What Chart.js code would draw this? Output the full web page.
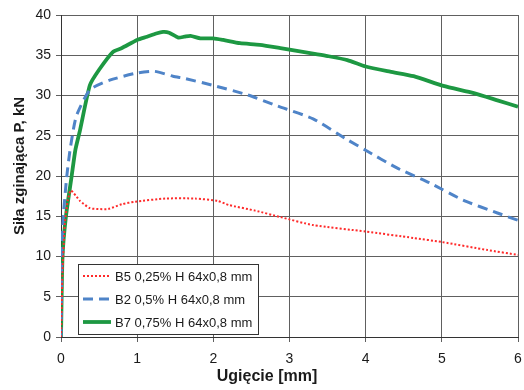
<!DOCTYPE html>
<html>
<head>
<meta charset="utf-8">
<script src="https://cdn.jsdelivr.net/npm/chart.js@4"></script>
<style>
    html, body { margin: 0; padding: 0; background: #fff; }
    #wrap { width: 524px; height: 390px; }
</style>
</head>
<body>
<div id="wrap"><canvas id="chart" width="524" height="390"></canvas></div>
<script>
// Series data
const b5X = [0, 0.02, 0.05, 0.09, 0.13, 0.25, 0.38, 0.49, 0.62, 0.8, 0.97, 1.37, 1.76, 2.06, 2.2, 2.55, 2.88, 3.31, 4.0, 4.63, 5.0, 5.6, 6.0];
const b5Y = [0, 8, 14, 17, 18.2, 16.9, 16.0, 15.9, 15.9, 16.5, 16.8, 17.2, 17.2, 16.9, 16.4, 15.7, 14.9, 13.9, 13.1, 12.3, 11.8, 10.8, 10.2];

const b2X = [0, 0.01, 0.03, 0.075, 0.12, 0.2, 0.38, 0.64, 1.0, 1.23, 1.47, 1.63, 1.98, 2.44, 2.84, 3.31, 3.76, 4.0, 4.41, 4.85, 5.28, 5.73, 6.0];
const b2Y = [0, 10, 14.9, 19.9, 23.3, 27.4, 30.7, 31.9, 32.8, 33.0, 32.4, 32.1, 31.3, 30.1, 28.7, 27.1, 24.5, 23.2, 21.0, 19.1, 17.0, 15.4, 14.5];

const b7X = [0, 0.02, 0.065, 0.14, 0.19, 0.25, 0.38, 0.5, 0.68, 0.8, 1.0, 1.13, 1.25, 1.34, 1.42, 1.54, 1.62, 1.7, 1.83, 2.0, 2.13, 2.35, 2.61, 2.88, 3.0, 3.31, 3.5, 3.76, 4.0, 4.32, 4.63, 5.02, 5.42, 5.73, 6.0];
const b7Y = [0, 10, 15, 20, 23.3, 25.7, 31.3, 33.2, 35.4, 35.9, 36.9, 37.3, 37.7, 37.9, 37.8, 37.2, 37.3, 37.4, 37.1, 37.1, 36.9, 36.5, 36.3, 35.9, 35.7, 35.2, 34.9, 34.4, 33.6, 32.96, 32.4, 31.2, 30.3, 29.4, 28.6];

const seriesLabels = ['B5 0,25% H 64x0,8 mm', 'B2 0,5% H 64x0,8 mm', 'B7 0,75% H 64x0,8 mm'];
const xTitle = 'Ugięcie [mm]';
const yTitle = 'Siła zginająca P, kN';

const toPoints = (xs, ys) => xs.map((x, i) => ({ x: x, y: ys[i] }));

const FONT = "'Liberation Sans', Arial, sans-serif";
const TEXT = '#1a1a1a';
Chart.defaults.font.family = FONT;
Chart.defaults.color = TEXT;

// Legend box inside the plot (bottom left) and the two axis titles,
// which sit a bit off-centre in the original
const extras = {
    id: 'extras',
    afterDatasetsDraw(chart) {
        const ctx = chart.ctx;
        const area = chart.chartArea;
        const left = area.left + 17, top = area.bottom - 73, w = 180, h = 70;
        ctx.save();
        ctx.fillStyle = '#fff';
        ctx.fillRect(left, top, w, h);
        ctx.strokeStyle = '#333';
        ctx.lineWidth = 1;
        ctx.strokeRect(left + 0.5, top + 0.5, w, h);
        ctx.font = '13px ' + FONT;
        ctx.textBaseline = 'middle';
        chart.data.datasets.forEach((ds, i) => {
            const y = top + 12 + i * 23;
            ctx.beginPath();
            ctx.strokeStyle = ds.borderColor;
            ctx.lineWidth = ds.borderWidth;
            ctx.setLineDash(ds.borderDash || []);
            ctx.moveTo(left + 5, y);
            ctx.lineTo(left + 33, y);
            ctx.stroke();
            ctx.setLineDash([]);
            ctx.fillStyle = TEXT;
            ctx.fillText(ds.label, left + 37, y + 1);
        });

        ctx.fillStyle = TEXT;
        ctx.textAlign = 'center';
        ctx.font = 'bold 16px ' + FONT;
        ctx.fillText(xTitle, area.left + 206, 377);
        ctx.translate(20, area.top + 151);
        ctx.rotate(-Math.PI / 2);
        ctx.font = 'bold 15px ' + FONT;
        ctx.fillText(yTitle, 0, 0);
        ctx.restore();
    }
};

new Chart(document.getElementById('chart'), {
    type: 'scatter',
    data: {
        datasets: [
            {
                label: seriesLabels[0],
                data: toPoints(b5X, b5Y),
                showLine: true,
                borderColor: '#ff2a2a',
                borderWidth: 2,
                borderDash: [2, 2],
                pointRadius: 0,
                tension: 0.2
            },
            {
                label: seriesLabels[1],
                data: toPoints(b2X, b2Y),
                showLine: true,
                borderColor: '#4f84c8',
                borderWidth: 3,
                borderDash: [10, 6],
                pointRadius: 0,
                tension: 0.2
            },
            {
                label: seriesLabels[2],
                data: toPoints(b7X, b7Y),
                showLine: true,
                borderColor: '#1d9842',
                borderWidth: 3.8,
                pointRadius: 0,
                tension: 0.2
            }
        ]
    },
    options: {
        responsive: false,
        animation: false,
        layout: { padding: { left: 0, right: 6, top: 15, bottom: 0 } },
        plugins: {
            legend: { display: false },
            tooltip: { enabled: false }
        },
        scales: {
            x: {
                type: 'linear',
                min: 0,
                max: 6,
                ticks: { stepSize: 1, font: { size: 14 }, color: TEXT, padding: 9 },
                grid: { color: '#606060', tickLength: 5 },
                border: { color: '#333' },
                afterFit(scale) {
                    scale.height = 53;
                    scale.paddingLeft = 0;
                    scale.paddingRight = 0;
                }
            },
            y: {
                min: 0,
                max: 40,
                ticks: { stepSize: 5, font: { size: 14 }, color: TEXT, padding: 5 },
                grid: { color: '#606060', tickLength: 5 },
                border: { color: '#333' },
                afterFit(scale) { scale.width = 61; }
            }
        }
    },
    plugins: [extras]
});
</script>
</body>
</html>
